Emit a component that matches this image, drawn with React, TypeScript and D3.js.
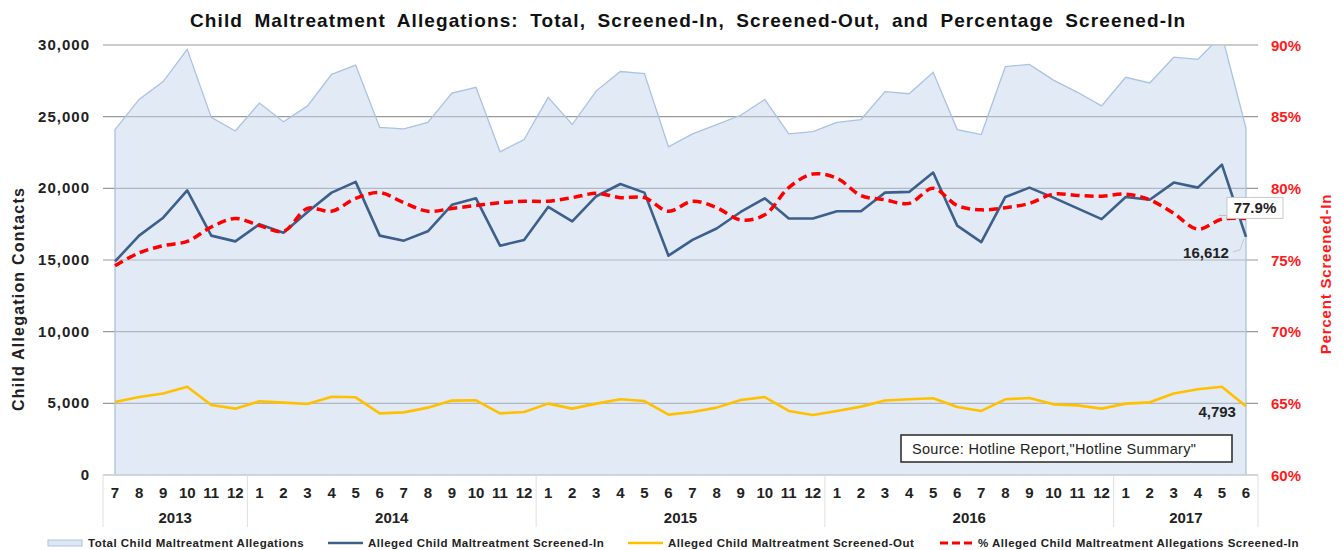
import React from "react";
import * as d3 from "d3";

const months = [
  "7","8","9","10","11","12",
  "1","2","3","4","5","6","7","8","9","10","11","12",
  "1","2","3","4","5","6","7","8","9","10","11","12",
  "1","2","3","4","5","6","7","8","9","10","11","12",
  "1","2","3","4","5","6",
];
const years = ["2013", "2014", "2015", "2016", "2017"];
const yearCounts = [6, 12, 12, 12, 6];

const total = [
  24100, 26200, 27450, 29700, 24950, 24000, 25950, 24650, 25750, 27950, 28600, 24250,
  24150, 24600, 26650, 27050, 22550, 23400, 26350, 24450, 26800, 28150, 28000, 22900,
  23800, 24450, 25100, 26200, 23800, 23950, 24600, 24800, 26750, 26600, 28100, 24100,
  23750, 28500, 28650, 27550, 26700, 25750, 27750, 27350, 29150, 29000, 30700, 24200,
];
const screenedIn = [
  14900, 16700, 17950, 19850, 16700, 16300, 17500, 16900, 18350, 19700, 20450, 16700,
  16350, 17000, 18850, 19300, 16000, 16400, 18700, 17700, 19450, 20300, 19700, 15300,
  16400, 17200, 18350, 19300, 17900, 17900, 18400, 18400, 19700, 19750, 21100, 17400,
  16250, 19400, 20050, 19350, 18600, 17850, 19400, 19200, 20400, 20050, 21650, 16612,
];
const screenedOut = [
  5090, 5440, 5680, 6160, 4880, 4630, 5140, 5050, 4950, 5460, 5420, 4300,
  4370, 4700, 5190, 5210, 4300, 4400, 4980, 4630, 4980, 5280, 5160, 4210,
  4400, 4700, 5230, 5440, 4470, 4190, 4470, 4770, 5200, 5280, 5350, 4740,
  4470, 5280, 5370, 4930, 4860, 4630, 4980, 5070, 5680, 5980, 6160, 4793,
];
const pctIn = [
  74.6, 75.5, 76.0, 76.3, 77.3, 77.9, 77.4, 77.0, 78.6, 78.4, 79.3, 79.7,
  79.0, 78.4, 78.6, 78.8, 79.0, 79.1, 79.1, 79.35, 79.65, 79.35, 79.35, 78.4,
  79.1, 78.65, 77.8, 78.15, 80.05, 81.0, 80.7, 79.5, 79.2, 78.95, 80.0, 78.8,
  78.5, 78.65, 78.95, 79.6, 79.5, 79.45, 79.6, 79.2, 78.25, 77.15, 77.85, 77.9,
];
const leftTicks = [0, 5000, 10000, 15000, 20000, 25000, 30000];
const rightTicks = [60, 65, 70, 75, 80, 85, 90];

const title =
  "Child Maltreatment Allegations: Total, Screened-In, Screened-Out, and Percentage Screened-In";
const legendLabels = [
  "Total Child Maltreatment Allegations",
  "Alleged Child Maltreatment Screened-In",
  "Alleged Child Maltreatment Screened-Out",
  "% Alleged Child Maltreatment Allegations Screened-In",
];
const sourceText = 'Source: Hotline Report,"Hotline Summary"';

const W = 1343;
const H = 550;
const L = 103;
const R = 1258;
const T = 45;
const B = 475;

const C_AREA = "#c6d6ec";
const C_AREA_STROKE = "#a9c3e3";
const C_IN = "#3c5f8c";
const C_OUT = "#ffc000";
const C_PCT = "#ff0000";
const FONT = "Arial, 'Liberation Sans', Helvetica, sans-serif";

function measure(text: string, font: string): number {
  if (typeof document === "undefined") return 0;
  const c = document.createElement("canvas");
  const ctx = c.getContext("2d");
  if (!ctx) return 0;
  ctx.font = font;
  return ctx.measureText(text).width;
}

export default function App() {
  const idx = d3.range(months.length);
  const xb = d3.scaleBand<number>().domain(idx).range([L, R]).padding(0);
  const x = (i: number) => (xb(i) as number) + xb.bandwidth() / 2;
  const y = d3.scaleLinear().domain([0, 30000]).range([B, T]);
  const yr = d3.scaleLinear().domain([60, 90]).range([B, T]);

  const area = d3
    .area<number>()
    .x((d, i) => x(i))
    .y0(B)
    .y1((d) => y(d));
  const lineL = d3
    .line<number>()
    .x((d, i) => x(i))
    .y((d) => y(d));
  const linePct = d3
    .line<number>()
    .x((d, i) => x(i))
    .y((d) => yr(d))
    .curve(d3.curveCatmullRom.alpha(0.5));

  const yearStarts: number[] = [];
  let acc = 0;
  yearCounts.forEach((c) => {
    yearStarts.push(acc);
    acc += c;
  });

  // title spacing to match the reference width
  const natural = measure(title, "bold 19px Arial");
  const nSpaces = title.split(" ").length - 1;
  const titleTarget = 997;
  const wordSp = 5;
  const letterSp =
    natural > 500 ? Math.max(0, (titleTarget - natural - nSpaces * wordSp) / title.length) : 0.3;

  const last = months.length - 1;
  const lx = x(last);
  const pctY = yr(pctIn[last]);
  const inY = y(screenedIn[last]);
  const outY = y(screenedOut[last]);

  const legendY = 543;
  const legendItems = [
    { x: 48, tx: 88, kind: "area" },
    { x: 328, tx: 368, kind: "in" },
    { x: 628, tx: 668, kind: "out" },
    { x: 940, tx: 978, kind: "pct" },
  ];

  return (
    <svg
      width={W}
      height={H}
      style={{ position: "absolute", left: 0, top: 0, display: "block", background: "#fff" }}
      fontFamily={FONT}
    >
      <defs>
        <clipPath id="plotClip">
          <rect x={L} y={T} width={R - L} height={B - T} />
        </clipPath>
      </defs>

      {/* title */}
      <text
        x={190}
        y={27}
        textAnchor="start"
        fontSize={19}
        fontWeight="bold"
        fill="#111"
        wordSpacing={wordSp}
        letterSpacing={letterSp}
      >
        {title}
      </text>

      {/* gridlines */}
      {leftTicks.map((t) => (
        <line key={"g" + t} x1={L} x2={R} y1={y(t)} y2={y(t)} stroke="#999" strokeWidth={1.2} />
      ))}

      {/* total area */}
      <g clipPath="url(#plotClip)">
        <path d={area(total) as string} fill={C_AREA} fillOpacity={0.5} stroke="none" />
        <path d={area(total) as string} fill="none" stroke={C_AREA_STROKE} strokeWidth={1.3} />
      </g>

      {/* category axis boxes */}
      <line x1={L} x2={R} y1={B} y2={B} stroke="#e0e0e0" strokeWidth={1} />
      {yearStarts.map((s, k) => (
        <line
          key={"ys" + k}
          x1={xb(s) as number}
          x2={xb(s) as number}
          y1={B}
          y2={527}
          stroke="#e0e0e0"
          strokeWidth={1}
        />
      ))}
      <line x1={R} x2={R} y1={B} y2={527} stroke="#e0e0e0" strokeWidth={1} />

      {/* lines */}
      <path d={lineL(screenedOut) as string} fill="none" stroke={C_OUT} strokeWidth={2.6} strokeLinejoin="round" />
      <path d={lineL(screenedIn) as string} fill="none" stroke={C_IN} strokeWidth={2.6} strokeLinejoin="round" />
      <path
        d={linePct(pctIn) as string}
        fill="none"
        stroke={C_PCT}
        strokeWidth={3.5}
        strokeDasharray="9,5"
      />

      {/* left tick labels */}
      {leftTicks.map((t) => (
        <text
          key={"lt" + t}
          x={90}
          y={y(t) + 5}
          textAnchor="end"
          fontSize={15}
          fontWeight="bold"
          letterSpacing={1}
          fill="#222"
        >
          {d3.format(",")(t)}
        </text>
      ))}
      {/* right tick labels */}
      {rightTicks.map((t) => (
        <text
          key={"rt" + t}
          x={1271}
          y={yr(t) + 5.5}
          textAnchor="start"
          fontSize={15}
          fontWeight="bold"
          fill="#ff1a1a"
        >
          {t + "%"}
        </text>
      ))}

      {/* axis titles */}
      <text
        transform={`translate(24,${299}) rotate(-90)`}
        textAnchor="middle"
        fontSize={16}
        fontWeight="bold"
        letterSpacing={1.2}
        fill="#222"
      >
        Child Allegation Contacts
      </text>
      <text
        transform={`translate(1331,${274}) rotate(-90)`}
        textAnchor="middle"
        fontSize={15}
        fontWeight="bold"
        letterSpacing={0.8}
        fill="#ff1a1a"
      >
        Percent Screened-In
      </text>

      {/* month labels */}
      {months.map((m, i) => (
        <text
          key={"m" + i}
          x={x(i)}
          y={498}
          textAnchor="middle"
          fontSize={15}
          fontWeight="bold"
          fill="#222"
        >
          {m}
        </text>
      ))}
      {years.map((yv, k) => {
        const s = yearStarts[k];
        const e = s + yearCounts[k];
        const cx = ((xb(s) as number) + (e < months.length ? (xb(e) as number) : R)) / 2;
        return (
          <text key={"y" + yv} x={cx} y={523} textAnchor="middle" fontSize={15} fontWeight="bold" fill="#222">
            {yv}
          </text>
        );
      })}

      {/* source box */}
      <rect x={901} y={435} width={331} height={27} fill="#fff" stroke="#333" strokeWidth={1.6} />
      <text x={912} y={454} fontSize={14.5} letterSpacing={0.3} fill="#222">
        {sourceText}
      </text>

      {/* data labels */}
      <polyline
        points={`${lx - 27},${pctY - 3} ${lx - 12},${pctY - 3}`}
        fill="none"
        stroke="#bbb"
        strokeWidth={1}
      />
      <rect x={lx - 19} y={pctY - 21} width={56} height={21} fill="#fff" stroke="#c8c8c8" strokeWidth={1} />
      <text x={lx + 9} y={pctY - 5} textAnchor="middle" fontSize={15} fontWeight="bold" fill="#222">
        {pctIn[last].toFixed(1) + "%"}
      </text>

      <polyline
        points={`${lx - 13},${inY + 15} ${lx - 6},${inY + 13} ${lx - 2},${inY + 2}`}
        fill="none"
        stroke="#c8c8c8"
        strokeWidth={1}
      />
      <text x={lx - 17} y={inY + 21} textAnchor="end" fontSize={15} fontWeight="bold" fill="#222">
        {d3.format(",")(screenedIn[last])}
      </text>
      <text x={lx - 10} y={outY + 11} textAnchor="end" fontSize={15} fontWeight="bold" fill="#222">
        {d3.format(",")(screenedOut[last])}
      </text>

      {/* legend */}
      {legendItems.map((it, k) => (
        <g key={"lg" + k}>
          {it.kind === "area" && (
            <rect x={it.x} y={legendY - 3} width={34} height={6} fill="#dde7f3" stroke={C_AREA_STROKE} strokeWidth={1} />
          )}
          {it.kind === "in" && (
            <line x1={it.x} x2={it.x + 35} y1={legendY} y2={legendY} stroke={C_IN} strokeWidth={2.5} />
          )}
          {it.kind === "out" && (
            <line x1={it.x} x2={it.x + 35} y1={legendY} y2={legendY} stroke={C_OUT} strokeWidth={2.5} />
          )}
          {it.kind === "pct" && (
            <line
              x1={it.x}
              x2={it.x + 33}
              y1={legendY}
              y2={legendY}
              stroke={C_PCT}
              strokeWidth={3}
              strokeDasharray="8,4"
            />
          )}
          <text x={it.tx} y={legendY + 4} fontSize={11.5} fontWeight="bold" letterSpacing={0.5} fill="#222">
            {legendLabels[k]}
          </text>
        </g>
      ))}
    </svg>
  );
}
